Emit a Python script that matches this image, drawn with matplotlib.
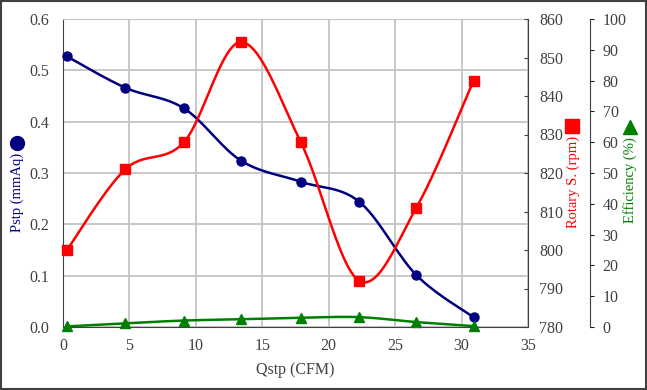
import numpy as np
import matplotlib.pyplot as plt
from matplotlib.lines import Line2D
from matplotlib.patches import Rectangle

# Data
qstp = [0.3, 4.7, 9.1, 13.4, 17.9, 22.3, 26.6, 30.9]          # Qstp (CFM)
pstp = [0.527, 0.466, 0.426, 0.324, 0.283, 0.244, 0.101, 0.019]  # Pstp (mmAq)
rpm = [800, 821, 828, 854, 828, 792, 811, 844]                # Rotary S. (rpm)
eff = [0.2, 1.2, 2.1, 2.5, 3.0, 3.2, 1.6, 0.3]                  # Efficiency (%)

NAVY, RED, GREEN, GREY = '#000080', '#ff0000', '#008000', '#404040'
plt.rcParams['font.family'] = ['Liberation Serif', 'DejaVu Serif']
FS = 11.5
LFS = 10.5


def smooth(x, y, n=30):
    # Excel-style smoothed line (Catmull-Rom through the points)
    x, y = np.asarray(x, float), np.asarray(y, float)
    px = np.concatenate([[x[0]], x, [x[-1]]])
    py = np.concatenate([[y[0]], y, [y[-1]]])
    xs, ys = [], []
    t = np.linspace(0, 1, n)
    for i in range(1, len(px) - 2):
        for p, out in ((px, xs), (py, ys)):
            p0, p1, p2, p3 = p[i - 1], p[i], p[i + 1], p[i + 2]
            c1 = p1 + (p2 - p0) / 6
            c2 = p2 - (p3 - p1) / 6
            out.extend((1 - t) ** 3 * p1 + 3 * (1 - t) ** 2 * t * c1
                       + 3 * (1 - t) * t ** 2 * c2 + t ** 3 * p2)
    return xs, ys


fig = plt.figure(figsize=(6.47, 3.9), dpi=100)
ax = fig.add_axes([63 / 647, 1 - 327 / 390, 465 / 647, 308 / 390])
ax.set_xlim(0, 35)
ax.set_ylim(0, 0.6)
ax.set_xticks(np.arange(0, 36, 5))
ax.set_yticks(np.arange(0, 0.61, 0.1))
ax.set_yticklabels([f'{v:.1f}' for v in np.arange(0, 0.61, 0.1)])
ax.grid(True, color='#c4c4c4', lw=1.3)
ax.set_axisbelow(True)
ax.tick_params(length=0, labelsize=FS, labelcolor=GREY)
ax.tick_params(axis='y', pad=10)
ax.tick_params(axis='x', pad=8)
for s in ['left', 'bottom']:
    ax.spines[s].set_color(GREY)
ax.spines['top'].set_color('#c4c4c4')
ax.spines['right'].set_visible(False)
ax.set_xlabel('Qstp (CFM)', fontsize=FS, color=GREY, labelpad=6)

ax2 = ax.twinx()
ax2.set_ylim(780, 860)
ax2.set_yticks(np.arange(780, 861, 10))
ax2.tick_params(direction='in', length=3, color=GREY, labelsize=FS,
                labelcolor=GREY, pad=8)
ax2.spines['right'].set_color(GREY)
for s in ['left', 'top', 'bottom']:
    ax2.spines[s].set_visible(False)

ax3 = ax.twinx()
ax3.set_ylim(0, 100)
ax3.set_yticks(np.arange(0, 101, 10))
ax3.spines['right'].set_position(('axes', (590 - 63) / 465))
ax3.spines['right'].set_color(GREY)
ax3.tick_params(direction='out', length=3, color='#202020', labelsize=FS,
                labelcolor=GREY, pad=6)
for s in ['left', 'top', 'bottom']:
    ax3.spines[s].set_visible(False)

# Series
ax.plot(*smooth(qstp, pstp), color=NAVY, lw=1.8, zorder=3)
ax.plot(qstp, pstp, 'o', color=NAVY, ms=6.5, zorder=4, clip_on=False)
ax2.plot(*smooth(qstp, rpm), color=RED, lw=1.8, zorder=3)
ax2.plot(qstp, rpm, 's', color=RED, ms=7, zorder=4, clip_on=False)
ax3.plot(*smooth(qstp, eff), color=GREEN, lw=1.8, zorder=3)
ax3.plot(qstp, eff, '^', color=GREEN, ms=7, zorder=4, clip_on=False)

# Axis titles with marker glyphs
fig.text(17 / 647, 1 - 153 / 390, 'Pstp (mmAq)', rotation=90, color=NAVY,
         fontsize=LFS, ha='center', va='top')
fig.add_artist(Line2D([17 / 647], [1 - 143 / 390], marker='o', ms=10,
                      color=NAVY, transform=fig.transFigure))
fig.text(573 / 647, 1 - 136 / 390, 'Rotary S. (rpm)', rotation=90, color=RED,
         fontsize=LFS, ha='center', va='top')
fig.add_artist(Line2D([572 / 647], [1 - 126 / 390], marker='s', ms=10,
                      color=RED, transform=fig.transFigure))
fig.text(630 / 647, 1 - 137 / 390, 'Efficiency (%)', rotation=90, color=GREEN,
         fontsize=LFS, ha='center', va='top')
fig.add_artist(Line2D([630 / 647], [1 - 127 / 390], marker='^', ms=10,
                      color=GREEN, transform=fig.transFigure))

fig.add_artist(Rectangle((0.001, 0.002), 0.997, 0.995, fill=False,
                         edgecolor=GREY, lw=1.5, transform=fig.transFigure))

fig.savefig('out.png', dpi=100)
